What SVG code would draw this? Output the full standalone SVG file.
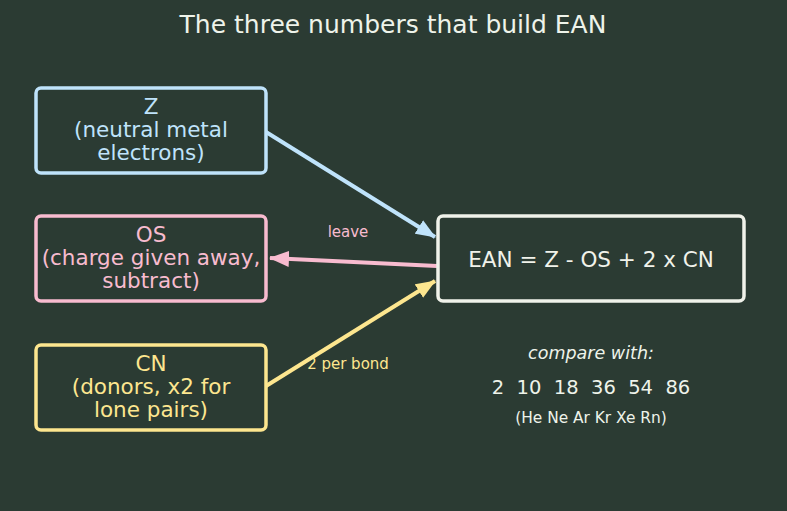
<svg xmlns="http://www.w3.org/2000/svg" width="787" height="511" viewBox="0 0 787 511">
<style>
text{font-family:"DejaVu Sans",sans-serif;text-anchor:middle}
.box{fill:#2b3b33;stroke-width:3.5}
.lbl{font-size:21.5px}
.edge{fill:none;stroke-width:4}
</style>
<defs>
<marker id="mb" markerWidth="20" markerHeight="16" refX="19" refY="8" orient="auto" markerUnits="userSpaceOnUse"><path d="M0,0 L20,8 L0,16 Z" fill="#bfe3fb"/></marker>
<marker id="mp" markerWidth="20" markerHeight="16" refX="19" refY="8" orient="auto" markerUnits="userSpaceOnUse"><path d="M0,0 L20,8 L0,16 Z" fill="#f8bbcf"/></marker>
<marker id="my" markerWidth="20" markerHeight="16" refX="19" refY="8" orient="auto" markerUnits="userSpaceOnUse"><path d="M0,0 L20,8 L0,16 Z" fill="#fde68f"/></marker>
</defs>
<rect width="787" height="511" fill="#2b3b33"/>
<text x="393" y="33" font-size="25" fill="#eef3ea">The three numbers that build EAN</text>
<g id="connectors">
<path class="edge" stroke="#bfe3fb" d="M266,132 L435,237" marker-end="url(#mb)"/>
<path class="edge" stroke="#f8bbcf" d="M437,266 L270,258" marker-end="url(#mp)"/>
<path class="edge" stroke="#fde68f" d="M266,386 L435,281" marker-end="url(#my)"/>
<text x="348" y="237" font-size="15" fill="#f8bbcf">leave</text>
<text x="348" y="369" font-size="15" fill="#fde68f">2 per bond</text>
</g>
<g id="Z">
<rect class="box" x="36" y="88" width="230" height="85" rx="5" stroke="#bfe3fb"/>
<text class="lbl" fill="#bfe3fb" x="151" y="114">Z</text>
<text class="lbl" fill="#bfe3fb" x="151" y="137">(neutral metal</text>
<text class="lbl" fill="#bfe3fb" x="151" y="160">electrons)</text>
</g>
<g id="OS">
<rect class="box" x="36" y="216" width="230" height="85" rx="5" stroke="#f8bbcf"/>
<text class="lbl" fill="#f8bbcf" x="151" y="242">OS</text>
<text class="lbl" fill="#f8bbcf" x="151" y="265">(charge given away,</text>
<text class="lbl" fill="#f8bbcf" x="151" y="288">subtract)</text>
</g>
<g id="CN">
<rect class="box" x="36" y="345" width="230" height="85" rx="5" stroke="#fde68f"/>
<text class="lbl" fill="#fde68f" x="151" y="371">CN</text>
<text class="lbl" fill="#fde68f" x="151" y="394">(donors, x2 for</text>
<text class="lbl" fill="#fde68f" x="151" y="417">lone pairs)</text>
</g>
<g id="EAN">
<rect class="box" x="438" y="216" width="306" height="85" rx="5" stroke="#f0f2ea"/>
<text x="591" y="267" font-size="21.5" fill="#f0f2ea">EAN = Z - OS + 2 x CN</text>
</g>
<g id="compare">
<text x="591" y="359" font-size="17.5" font-style="italic" fill="#eef3ea">compare with:</text>
<text x="591" y="394" font-size="19.5" fill="#eef3ea" xml:space="preserve">2  10  18  36  54  86</text>
<text x="591" y="423" font-size="15.4" fill="#eef3ea" font-family="Liberation Sans, sans-serif">(He Ne Ar Kr Xe Rn)</text>
</g>
</svg>
